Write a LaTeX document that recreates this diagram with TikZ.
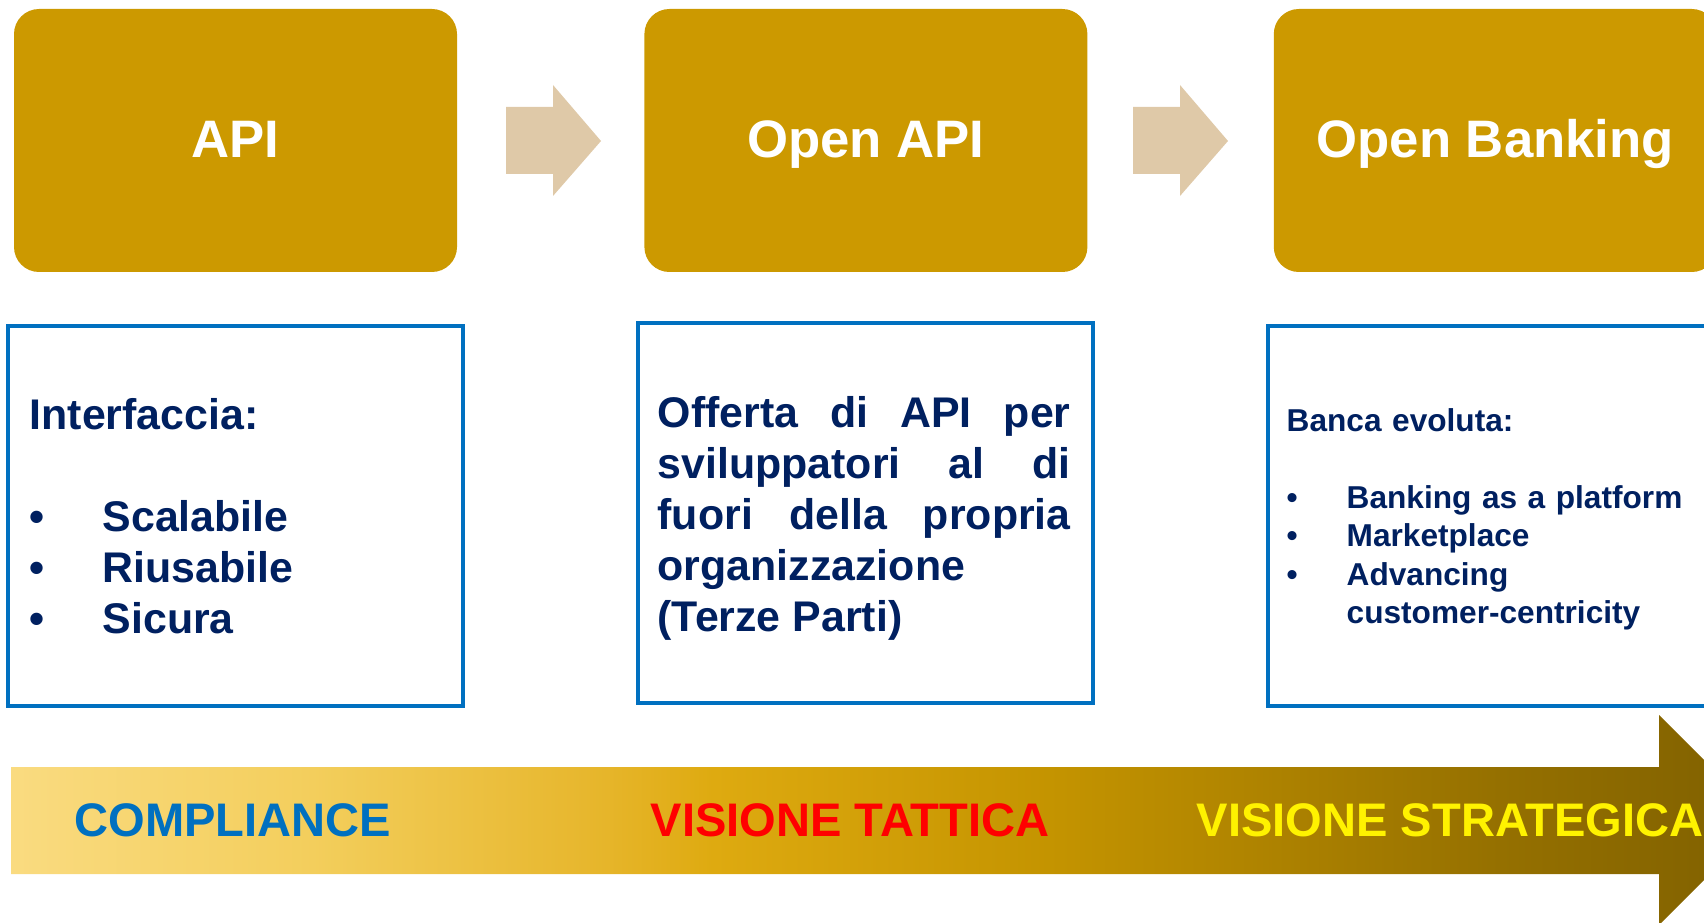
\documentclass[tikz,border=0pt]{standalone}
\usepackage{fontspec}
\setmainfont{Liberation Sans}
\usetikzlibrary{positioning}

\definecolor{oro}{HTML}{CC9900}
\definecolor{sabbia}{HTML}{DFC9A8}
\definecolor{blu}{HTML}{0070C0}
\definecolor{notte}{HTML}{002060}

% sfumatura della freccia in basso
\pgfdeclarehorizontalshading{barra}{100bp}{
  rgb(0bp)=(0.980,0.859,0.502); rgb(25bp)=(0.980,0.859,0.502);
  rgb(33.6bp)=(0.953,0.808,0.361); rgb(42bp)=(0.902,0.710,0.165);
  rgb(45bp)=(0.871,0.667,0.063); rgb(54.6bp)=(0.769,0.580,0);
  rgb(60.3bp)=(0.690,0.518,0); rgb(67.5bp)=(0.584,0.439,0);
  rgb(75bp)=(0.498,0.376,0); rgb(100bp)=(0.498,0.376,0)}

\begin{document}
\begin{tikzpicture}[x=0.1mm,y=-0.1mm,
  titolo/.style={fill=oro,rounded corners=2.5mm,minimum width=44.3mm,minimum height=26.3mm,text height=3.5mm,text depth=0pt,text=white,font=\fontsize{15}{18}\selectfont\bfseries},
  riquadro/.style={draw=blu,line width=0.4mm,minimum width=45.5mm,minimum height=38mm},
  corpo/.style={anchor=base west,inner sep=0pt,text=notte},
  fase/.style={anchor=west,inner sep=0pt,font=\fontsize{13.4}{16}\selectfont\bfseries}]
\useasboundingbox (0,0) rectangle (1704,923);
\clip (0,0) rectangle (1704,923);

% titoli
\node[titolo] (api) at (235.5,140.5) {API};
\node[titolo,right=18.6mm of api] (openapi) {Open API};
\node[titolo,right=18.5mm of openapi] (openbank) {Open Banking};

% frecce tra i titoli
\foreach \x in {506,1133}
  \fill[sabbia] (\x,107) -- ++(47,0) -- ++(0,-22) -- ++(48,56) -- ++(-48,55) -- ++(0,-22) -- ++(-47,0) -- cycle;

% riquadri
\node[riquadro,below=5.1mm of api] (boxapi) {};
\node[riquadro,below=4.8mm of openapi] (boxopen) {};
\node[riquadro,below=5.1mm of openbank] (boxbank) {};

\node[corpo,text width=42mm,font=\fontsize{12.2}{14.5}\selectfont\bfseries] (txtapi) at (29,429.5)
  {Interfaccia:\\[14.5pt]
   \makebox[7.3mm][l]{\textbullet}Scalabile\\
   \makebox[7.3mm][l]{\textbullet}Riusabile\\
   \makebox[7.3mm][l]{\textbullet}Sicura};
\node[corpo,text width=41.3mm,align=justify,font=\fontsize{12.2}{14.5}\selectfont\bfseries] (txtopen) at (657,427.5)
  {\hyphenpenalty=10000\tolerance=9999
   Offerta di API per sviluppatori al di fuori della propria organizzazione\par
   (Terze Parti)};
\node[corpo,text width=42mm,font=\fontsize{9}{10.95}\selectfont\bfseries] (txtbank) at (1286,431.5)
  {Banca evoluta:\\[10.95pt]
   \makebox[6mm][l]{\textbullet}Banking as a platform\\
   \makebox[6mm][l]{\textbullet}Marketplace\\
   \makebox[6mm][l]{\textbullet}Advancing\\
   \hspace*{6mm}customer-centricity};

% freccia in basso
\shade[shading=barra]
  (11,767) -- (1659,767) -- (1659,715) -- (1764,820) -- (1659,925) -- (1659,874) -- (11,874) -- cycle;

\node[fase,text=blu] (compliance) at (74,820) {COMPLIANCE};
\node[fase,text=red] (tattica) at (650,820) {VISIONE TATTICA};
\node[fase,text=yellow] (strategica) at (1196,820) {VISIONE STRATEGICA};

\end{tikzpicture}
\end{document}
